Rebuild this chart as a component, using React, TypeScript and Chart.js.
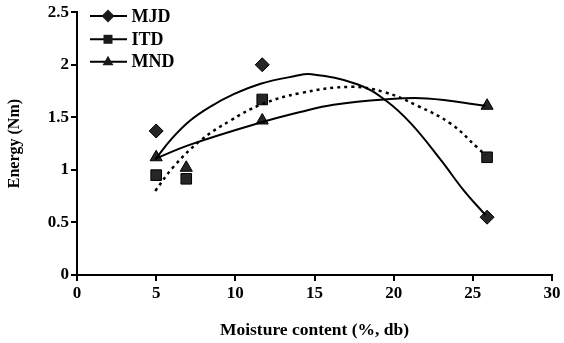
import React, { useEffect, useRef } from "react";
import { Chart, registerables } from "chart.js";

Chart.register(...registerables);

const seriesNames = ["MJD", "ITD", "MND"];
const markerStyles = ["rectRot", "rect", "triangle"];

// measured points
const mjdX = [5, 11.7, 25.9];
const mjdY = [1.37, 2.0, 0.55];
const itdX = [5, 6.9, 11.7, 25.9];
const itdY = [0.95, 0.915, 1.67, 1.12];
const mndX = [5, 6.9, 11.7, 25.9];
const mndY = [1.12, 1.02, 1.47, 1.61];

// trend curves
const mjdTrendX = [4.94, 6.0, 7.15, 8.4, 9.9, 11.6, 13.7, 14.8, 17.7, 19.5, 21.1, 23.0, 24.45, 25.8];
const mjdTrendY = [1.1, 1.3, 1.47, 1.6, 1.72, 1.82, 1.89, 1.91, 1.815, 1.66, 1.44, 1.09, 0.8, 0.57];
const itdTrendX = [4.94, 6.1, 7.8, 9.7, 11.6, 14.1, 17.3, 19.4, 21.5, 23.6, 25.3, 25.8];
const itdTrendY = [0.8, 1.03, 1.28, 1.47, 1.62, 1.73, 1.79, 1.74, 1.61, 1.44, 1.21, 1.14];
const mndTrendX = [4.94, 7.15, 11.6, 14.1, 16.2, 19.4, 22.1, 25.8];
const mndTrendY = [1.105, 1.24, 1.45, 1.55, 1.62, 1.67, 1.68, 1.61];

const xTicksMin = 0, xTicksMax = 30, xStep = 5;
const yTicksMin = 0, yTicksMax = 2.5, yStep = 0.5;

const xTitle = "Moisture content (%, db)";
const yTitle = "Energy (Nm)";

const FONT = "'Liberation Serif', 'Times New Roman', serif";

const zip = (xs: number[], ys: number[]) => xs.map((x, i) => ({ x, y: ys[i] }));

const legendPlugin = {
  id: "customLegend",
  afterDraw(chart: any) {
    const ctx = chart.ctx as CanvasRenderingContext2D;
    const rows = [16, 39.3, 61.7];
    ctx.save();
    seriesNames.forEach((name, i) => {
      const y = rows[i];
      ctx.strokeStyle = "#000";
      ctx.lineWidth = 2;
      ctx.beginPath();
      ctx.moveTo(90, y);
      ctx.lineTo(127, y);
      ctx.stroke();
      const cx = 108;
      ctx.fillStyle = "#1a1a1a";
      ctx.beginPath();
      const st = markerStyles[i];
      if (st === "rectRot") {
        const r = 6.5;
        ctx.moveTo(cx - r, y);
        ctx.lineTo(cx, y - r);
        ctx.lineTo(cx + r, y);
        ctx.lineTo(cx, y + r);
        ctx.closePath();
      } else if (st === "rect") {
        ctx.rect(cx - 4.5, y - 4.5, 9, 9);
      } else {
        ctx.moveTo(cx, y - 6);
        ctx.lineTo(cx + 5.5, y + 3.5);
        ctx.lineTo(cx - 5.5, y + 3.5);
        ctx.closePath();
      }
      ctx.fill();
      ctx.fillStyle = "#000";
      ctx.font = `bold 18px ${FONT}`;
      ctx.textBaseline = "middle";
      ctx.textAlign = "left";
      ctx.fillText(name, 131.5, y + 1);
    });
    ctx.restore();
  },
};

export default function App() {
  const ref = useRef<HTMLCanvasElement | null>(null);
  useEffect(() => {
    if (!ref.current) return;
    const markerCommon = {
      showLine: false,
      backgroundColor: "#262626",
      borderColor: "#000",
      borderWidth: 1,
    };
    const trendCommon = {
      type: "line",
      borderColor: "#000",
      pointRadius: 0,
      tension: 0.4,
      showLine: true,
      fill: false,
    };
    const chart = new Chart(ref.current, {
      type: "scatter",
      data: {
        datasets: [
          { ...trendCommon, label: "MJD trend", data: zip(mjdTrendX, mjdTrendY), borderWidth: 2 } as any,
          {
            ...trendCommon,
            label: "ITD trend",
            data: zip(itdTrendX, itdTrendY),
            borderWidth: 2.5,
            borderDash: [3, 4],
          } as any,
          { ...trendCommon, label: "MND trend", data: zip(mndTrendX, mndTrendY), borderWidth: 2 } as any,
          { label: "MJD", data: zip(mjdX, mjdY), pointStyle: "rectRot", pointRadius: 7, ...markerCommon },
          { label: "ITD", data: zip(itdX, itdY), pointStyle: "rect", pointRadius: 7.5, ...markerCommon },
          { label: "MND", data: zip(mndX, mndY), pointStyle: "triangle", pointRadius: 7, ...markerCommon },
        ],
      },
      options: {
        animation: false,
        responsive: false,
        maintainAspectRatio: false,
        layout: { padding: { top: 11, right: 12, bottom: 0, left: 0 } },
        plugins: {
          legend: { display: false },
          tooltip: { enabled: false },
        },
        scales: {
          x: {
            type: "linear",
            min: xTicksMin,
            max: xTicksMax,
            afterFit: (s: any) => {
              s.height = 68;
            },
            ticks: {
              stepSize: xStep,
              color: "#000",
              font: { family: FONT, size: 17, weight: "bold" },
              padding: 2,
              maxRotation: 0,
              callback: (v: any) => String(v),
            },
            grid: {
              display: true,
              drawOnChartArea: false,
              drawTicks: true,
              tickLength: 6,
              color: "#000",
              lineWidth: 2,
            },
            border: { display: true, color: "#000", width: 2 },
            title: {
              display: true,
              text: xTitle,
              color: "#000",
              font: { family: FONT, size: 17.5, weight: "bold" },
              padding: { top: 0, bottom: 2.5 },
            },
          },
          y: {
            type: "linear",
            min: yTicksMin,
            max: yTicksMax,
            afterFit: (s: any) => {
              s.width = 77;
            },
            ticks: {
              stepSize: yStep,
              color: "#000",
              font: { family: FONT, size: 17, weight: "bold" },
              padding: 2,
              callback: (v: any) => String(v),
            },
            grid: {
              display: true,
              drawOnChartArea: false,
              drawTicks: true,
              tickLength: 6,
              color: "#000",
              lineWidth: 2,
            },
            border: { display: true, color: "#000", width: 2 },
            title: {
              display: true,
              text: yTitle,
              color: "#000",
              font: { family: FONT, size: 16, weight: "bold" },
              padding: { top: 5.4, bottom: 0 },
            },
          },
        },
      } as any,
      plugins: [legendPlugin],
    });
    return () => chart.destroy();
  }, []);
  return (
    <div style={{ position: "fixed", left: 0, top: 0, width: 564, height: 343, background: "#fff" }}>
      <canvas ref={ref} width={564} height={343} style={{ width: 564, height: 343 }} />
    </div>
  );
}
